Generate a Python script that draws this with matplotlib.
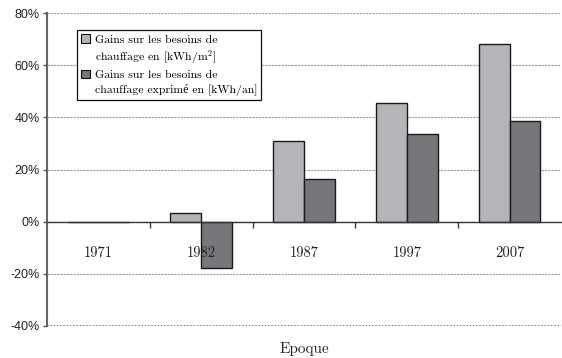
import matplotlib
matplotlib.use("Agg")
import matplotlib.pyplot as plt
from matplotlib.patches import Rectangle
import numpy as np

categories = ["1971", "1982", "1987", "1997", "2007"]
gain_m2 = [0.0, 3.5, 31.0, 45.5, 68.0]
gain_an = [0.0, -17.7, 16.3, 33.5, 38.5]
labels = ["Gains sur les besoins de\nchauffage en [kWh/m$^2$]",
          "Gains sur les besoins de\nchauffage exprimé en [kWh/an]"]
yticks = [-40, -20, 0, 20, 40, 60, 80]

serif = ["cmr10", "Liberation Serif", "DejaVu Serif"]
plt.rcParams["axes.unicode_minus"] = False
plt.rcParams["mathtext.fontset"] = "cm"

fig = plt.figure(figsize=(5.62, 3.58), dpi=100)
ax = fig.add_axes([47/562, 1-326/358, (561-47)/562, (326-13)/358])

light = "#b4b5b8"
dark = "#76777b"
x = np.arange(len(categories))
w = 0.3
ax.bar(x - w/2, gain_m2, w, color=light, edgecolor="#1a1a1a", linewidth=1.0, zorder=2)
ax.bar(x + w/2, gain_an, w, color=dark, edgecolor="#1a1a1a", linewidth=1.0, zorder=2)
ax.set_axisbelow(False)

ax.set_xlim(-0.5, len(categories) - 0.5)
ax.set_ylim(-40, 80)
ax.set_yticks(yticks)
ax.set_yticklabels([f"{v}%" for v in yticks], family="Liberation Sans", fontsize=9)

for v in yticks:
    if v == 0:
        continue
    if v == -40:
        ax.axhline(v, color="#8a8a8a", lw=1.3, ls=(0, (1, 0.8)), zorder=1)
    else:
        ax.axhline(v, color="#a8a8a8", lw=0.9, ls=(0, (2, 0.6)), zorder=1)

ax.spines["top"].set_visible(False)
ax.spines["right"].set_visible(False)
ax.spines["left"].set_color("#666666")
ax.spines["left"].set_linestyle((0, (1, 0.8)))
ax.spines["left"].set_linewidth(1.5)
ax.spines["bottom"].set_position(("data", 0))
ax.spines["bottom"].set_color("#333333")
ax.spines["bottom"].set_linewidth(1.0)

ax.set_xticks(x)
ax.set_xticklabels(categories, family=serif, fontsize=10.5, color="#222222")
ax.set_xticks(np.arange(0.5, len(categories) - 0.5, 1.0), minor=True)
ax.tick_params(axis="x", which="major", length=0, pad=18)
ax.tick_params(axis="x", which="minor", length=4, width=1, color="#333333", direction="out")
ax.tick_params(axis="y", length=3, width=1, color="#555555", pad=2, labelcolor="#222222")

ax.set_xlabel("Epoque", family=serif, fontsize=11, color="#222222")
ax.xaxis.set_label_coords(0.5, -0.05)

# legend: square marker on the first line of each two-line label
handles = []
texts = []
for lab, col in zip(labels, [light, dark]):
    first, second = lab.split("\n")
    handles.append(Rectangle((0, 0), 1, 1, facecolor=col, edgecolor="#111111", linewidth=0.8))
    texts.append(first)
    handles.append(Rectangle((0, 0), 1, 1, facecolor="none", edgecolor="none"))
    texts.append(second)

leg = ax.legend(handles, texts, loc="upper left", bbox_to_anchor=(0.058, 0.945), frameon=True,
                fancybox=False, edgecolor="#111111", framealpha=1,
                prop={"family": serif, "size": 8.5},
                handlelength=0.75, handleheight=0.75, handletextpad=0.4, labelspacing=0.3,
                borderpad=0.35, borderaxespad=0)
leg.get_frame().set_linewidth(0.9)
leg.set_zorder(5)

fig.savefig("out.png", dpi=100)
